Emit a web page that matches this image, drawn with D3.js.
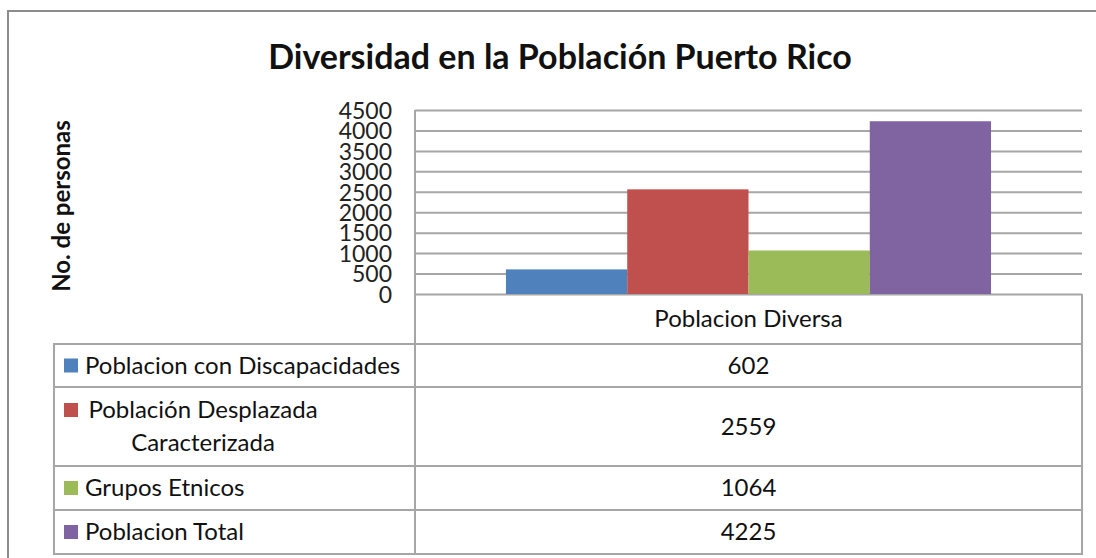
<!DOCTYPE html>
<html lang="es">
<head>
<meta charset="utf-8">
<script src="https://d3js.org/d3.v7.min.js"></script>
<style>
  body { margin: 0; background: #fff; }
  svg { display: block; }
  text { font-family: Lato, "Open Sans", sans-serif; fill: #111; }
  .grid line { stroke: #a6a6a6; stroke-width: 2px; }
  .grid path { display: none; }
  .ticks path { display: none; }
  .ticks text { font-size: 23px; fill: #222; font-family: Lato, sans-serif; }
  .tbl line { stroke: #a6a6a6; stroke-width: 2px; }
</style>
</head>
<body>
<svg id="chart" width="1096" height="558"></svg>
<script>
// chart data
var title = "Diversidad en la Población Puerto Rico";
var yLabel = "No. de personas";
var categories = ["Poblacion Diversa"];
var seriesNames = ["Poblacion con Discapacidades", "Población Desplazada Caracterizada", "Grupos Etnicos", "Poblacion Total"];
var seriesLines = [["Poblacion con Discapacidades"], ["Población Desplazada", "Caracterizada"], ["Grupos Etnicos"], ["Poblacion Total"]];
var values = [602, 2559, 1064, 4225];
var colors = ["#4f81bd", "#c0504d", "#9bbb59", "#8064a2"];
var yTicks = [0, 500, 1000, 1500, 2000, 2500, 3000, 3500, 4000, 4500];

var svg = d3.select("#chart");
var W = 1096, H = 558;

// outer frame (right and bottom run off the picture)
svg.append("rect")
    .attr("x", 8).attr("y", 11)
    .attr("width", W + 10).attr("height", H + 10)
    .attr("fill", "none").attr("stroke", "#8c8c8c").attr("stroke-width", 2);

var plot = { left: 415, right: 1082, top: 110, bottom: 294 };
var tableLeft = 54;
var rowH = [50, 43, 79, 44, 44];   // header + series rows
var fs = 24;

var y = d3.scaleLinear().domain([0, 4500]).range([plot.bottom, plot.top]);
var x0 = d3.scaleBand().domain(categories).range([plot.left, plot.right]);
// gap width 150% like the spreadsheet default
var barW = x0.bandwidth() / (seriesNames.length + 1.5);
var x1 = d3.scaleBand().domain(seriesNames)
    .range([barW * 0.75, barW * 0.75 + barW * seriesNames.length]);

// gridlines
svg.append("g").attr("class", "grid")
    .attr("transform", "translate(" + plot.left + ",0)")
    .call(d3.axisLeft(y).tickValues(yTicks).tickSize(-(plot.right - plot.left)).tickFormat(""));

// tick labels
var ax = svg.append("g").attr("class", "ticks")
    .attr("transform", "translate(392,0)")
    .call(d3.axisLeft(y).tickValues(yTicks).tickSize(0).tickPadding(0).tickFormat(d3.format("d")));
ax.selectAll("text").attr("dy", "0.36em");

// bars
svg.append("g").selectAll("rect")
    .data(values)
    .join("rect")
    .attr("x", function (d, i) { return x0(categories[0]) + x1(seriesNames[i]); })
    .attr("width", x1.bandwidth())
    .attr("y", function (d) { return y(d); })
    .attr("height", function (d) { return y(0) - y(d); })
    .attr("fill", function (d, i) { return colors[i]; });

// data table
var rowTops = [plot.bottom];
rowH.forEach(function (h) { rowTops.push(rowTops[rowTops.length - 1] + h); });
var bottom = rowTops[rowTops.length - 1];
var tbl = svg.append("g").attr("class", "tbl");
tbl.append("line").attr("x1", plot.left).attr("x2", plot.left).attr("y1", plot.top).attr("y2", bottom + 1);
tbl.append("line").attr("x1", plot.right).attr("x2", plot.right).attr("y1", plot.bottom).attr("y2", bottom + 1);
tbl.append("line").attr("x1", tableLeft).attr("x2", tableLeft).attr("y1", rowTops[1]).attr("y2", bottom + 1);
rowTops.slice(1).forEach(function (t) {
  tbl.append("line").attr("x1", tableLeft - 1).attr("x2", plot.right + 1).attr("y1", t).attr("y2", t);
});

var midX = x0(categories[0]) + x0.bandwidth() / 2;
svg.append("text")
    .attr("x", midX).attr("y", (rowTops[0] + rowTops[1]) / 2 + 8)
    .attr("text-anchor", "middle").attr("font-size", fs)
    .text(categories[0]);

seriesNames.forEach(function (name, i) {
  var top = rowTops[i + 1], bot = rowTops[i + 2];
  var mid = (top + bot) / 2;
  var lines = seriesLines[i];
  var lineH = 33;
  var firstY = mid - (lines.length - 1) * lineH / 2;
  svg.append("rect")
      .attr("x", 64).attr("y", firstY - 7)
      .attr("width", 14).attr("height", 14)
      .attr("fill", colors[i]);
  lines.forEach(function (ln, k) {
    var t = svg.append("text")
        .attr("y", firstY + k * lineH + 8)
        .attr("font-size", fs)
        .text(ln);
    if (lines.length > 1) t.attr("x", 203).attr("text-anchor", "middle");
    else t.attr("x", 85);
  });
  svg.append("text")
      .attr("x", midX).attr("y", mid + 8)
      .attr("text-anchor", "middle").attr("font-size", fs)
      .text(values[i]);
});

// title and axis label
svg.append("text")
    .attr("x", 560).attr("y", 69)
    .attr("text-anchor", "middle").attr("font-size", 34).attr("font-weight", "bold")
    .text(title);

svg.append("text")
    .attr("transform", "translate(70,206) rotate(-90)")
    .attr("text-anchor", "middle").attr("font-size", 24).attr("font-weight", "bold")
    .text(yLabel);
</script>
</body>
</html>
